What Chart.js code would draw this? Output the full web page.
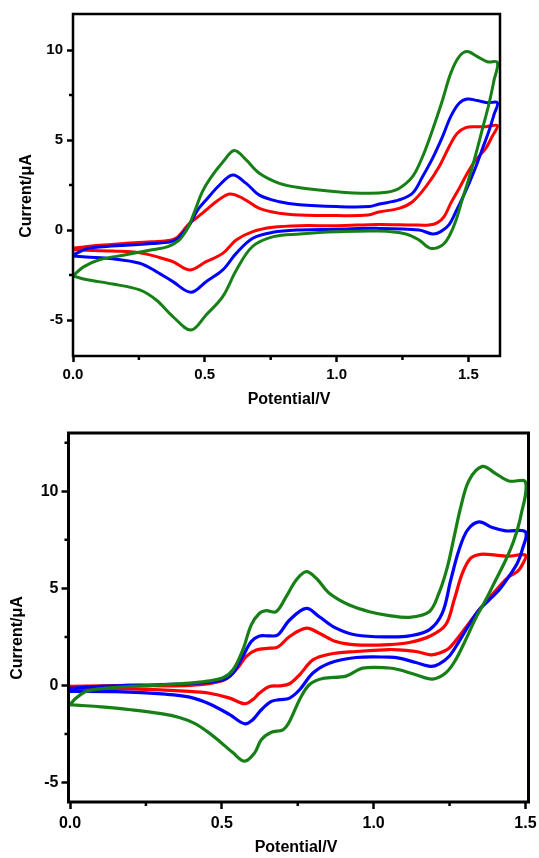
<!DOCTYPE html>
<html>
<head>
<meta charset="utf-8">
<script src="https://cdn.jsdelivr.net/npm/chart.js@4.4.1/dist/chart.umd.min.js"></script>
<style>
  html, body { margin: 0; padding: 0; background: #fff; }
  .panel { position: absolute; left: 0; width: 539px; }
  #panelTop { top: 0; height: 420px; }
  #panelBottom { top: 420px; height: 438px; }
</style>
</head>
<body>
<div class="panel" id="panelTop"><canvas id="cvTop"></canvas></div>
<div class="panel" id="panelBottom"><canvas id="cvBottom"></canvas></div>
<script>
// Axis labels and ticks
const xTitle = 'Potential/V';
const yTitle = 'Current/μA';
const xTicks = [0, 0.5, 1.0, 1.5];
const yTicks = [-5, 0, 5, 10];
const xMinor = [0.25, 0.75, 1.25];
const yMinorTop = [-2.5, 2.5, 7.5];
const yMinorBottom = [-2.5, 2.5, 7.5, 12.5];

// Upper voltammograms: forward sweep 0 -> 1.61 V, then back to 0 V
const topGreenV = [0, 0.04, 0.1, 0.2, 0.3, 0.36, 0.4, 0.42, 0.44, 0.467, 0.49, 0.52, 0.57, 0.612, 0.657, 0.707, 0.783, 0.86, 1.0, 1.12, 1.19, 1.237, 1.288, 1.326, 1.364, 1.402, 1.433, 1.465, 1.496, 1.534, 1.572, 1.61,
  1.597, 1.578, 1.553, 1.528, 1.503, 1.477, 1.452, 1.427, 1.402, 1.357, 1.313, 1.263, 1.16, 1.0, 0.86, 0.76, 0.68, 0.62, 0.568, 0.505, 0.448, 0.379, 0.316, 0.253, 0.15, 0.05, 0];
const topGreenI = [-2.55, -2.05, -1.65, -1.38, -1.1, -0.92, -0.6, -0.25, 0.25, 1.25, 2.1, 2.85, 3.8, 4.41, 3.89, 3.15, 2.59, 2.35, 2.13, 2.04, 2.1, 2.31, 2.96, 4.07, 5.56, 7.22, 8.7, 9.63, 9.91, 9.63, 9.35, 9.31,
  8.3, 7.0, 5.6, 4.2, 2.9, 1.7, 0.5, -0.35, -0.83, -1.02, -0.56, -0.22, -0.06, -0.1, -0.22, -0.37, -0.93, -2.22, -3.7, -4.72, -5.56, -4.81, -3.89, -3.33, -3.0, -2.75, -2.55];

const topBlueV = [0, 0.05, 0.1, 0.2, 0.3, 0.37, 0.395, 0.415, 0.442, 0.473, 0.505, 0.556, 0.606, 0.657, 0.707, 0.783, 0.859, 1.0, 1.124, 1.162, 1.237, 1.288, 1.326, 1.364, 1.402, 1.433, 1.465, 1.496, 1.534, 1.572, 1.61,
  1.597, 1.578, 1.553, 1.528, 1.503, 1.477, 1.452, 1.427, 1.395, 1.364, 1.313, 1.16, 1.0, 0.859, 0.758, 0.682, 0.619, 0.568, 0.505, 0.448, 0.379, 0.316, 0.253, 0.15, 0.05, 0];
const topBlueI = [-1.4, -1.05, -0.95, -0.85, -0.75, -0.66, -0.5, -0.2, 0.28, 1.11, 1.67, 2.5, 3.06, 2.59, 1.94, 1.57, 1.4, 1.3, 1.3, 1.44, 1.67, 2.04, 2.96, 3.98, 5.19, 6.3, 7.04, 7.28, 7.19, 7.07, 7.07,
  6.4, 5.5, 4.5, 3.5, 2.6, 1.75, 1.0, 0.3, -0.09, -0.22, 0.0, 0.09, 0.04, 0.0, -0.13, -0.46, -1.3, -2.22, -2.87, -3.46, -2.87, -2.31, -1.85, -1.6, -1.5, -1.45];

const topRedV = [0, 0.1, 0.2, 0.3, 0.37, 0.395, 0.415, 0.44, 0.467, 0.505, 0.543, 0.594, 0.644, 0.707, 0.783, 0.859, 1.0, 1.12, 1.16, 1.237, 1.288, 1.339, 1.389, 1.427, 1.458, 1.49, 1.528, 1.566, 1.61,
  1.59, 1.566, 1.528, 1.496, 1.465, 1.433, 1.408, 1.383, 1.351, 1.29, 1.16, 1.0, 0.859, 0.758, 0.682, 0.619, 0.568, 0.505, 0.442, 0.379, 0.316, 0.253, 0.15, 0.05, 0];
const topRedI = [-1.02, -0.85, -0.74, -0.65, -0.57, -0.42, -0.1, 0.35, 0.65, 1.11, 1.57, 2.0, 1.76, 1.2, 0.93, 0.83, 0.8, 0.83, 1.0, 1.2, 1.57, 2.41, 3.52, 4.63, 5.37, 5.69, 5.74, 5.74, 5.8,
  5.19, 4.54, 3.89, 3.15, 2.31, 1.48, 0.74, 0.41, 0.28, 0.28, 0.31, 0.24, 0.24, 0.15, -0.09, -0.56, -1.3, -1.76, -2.22, -1.76, -1.48, -1.26, -1.17, -1.12, -1.1];

// Lower voltammograms: forward sweep 0 -> 1.5 V, then back to 0 V
const botGreenV = [0, 0.02, 0.053, 0.118, 0.2, 0.315, 0.394, 0.447, 0.504, 0.537, 0.569, 0.597, 0.624, 0.646, 0.679, 0.712, 0.745, 0.778, 0.811, 0.854, 0.92, 0.986, 1.051, 1.117, 1.183, 1.215, 1.243, 1.265, 1.287, 1.314, 1.358, 1.402, 1.445, 1.5,
  1.484, 1.462, 1.435, 1.402, 1.369, 1.336, 1.303, 1.27, 1.237, 1.194, 1.139, 1.084, 1.051, 0.964, 0.909, 0.832, 0.788, 0.756, 0.723, 0.701, 0.663, 0.63, 0.608, 0.575, 0.537, 0.493, 0.45, 0.41, 0.36, 0.3, 0.2, 0.1, 0.04, 0];
const botGreenI = [-0.99, -0.65, -0.31, -0.14, -0.05, 0.04, 0.12, 0.21, 0.4, 0.81, 1.83, 3.12, 3.72, 3.85, 3.8, 4.57, 5.43, 5.86, 5.52, 4.75, 4.14, 3.8, 3.6, 3.51, 3.8, 4.75, 6.11, 7.65, 9.19, 10.56, 11.28, 10.91, 10.53, 10.48,
  8.68, 7.48, 6.46, 5.43, 4.4, 3.46, 2.35, 1.32, 0.64, 0.33, 0.55, 0.81, 0.9, 0.89, 0.48, 0.36, 0.04, -0.73, -1.85, -2.28, -2.41, -2.79, -3.47, -3.9, -3.47, -2.88, -2.35, -1.95, -1.65, -1.45, -1.25, -1.1, -1.03, -0.99];

const botBlueV = [0, 0.1, 0.3, 0.394, 0.504, 0.537, 0.569, 0.597, 0.624, 0.657, 0.684, 0.723, 0.778, 0.821, 0.876, 0.942, 1.051, 1.117, 1.183, 1.226, 1.254, 1.281, 1.309, 1.347, 1.391, 1.435, 1.5,
  1.489, 1.473, 1.445, 1.413, 1.38, 1.347, 1.314, 1.281, 1.248, 1.215, 1.188, 1.139, 1.084, 1.051, 0.942, 0.854, 0.8, 0.756, 0.723, 0.69, 0.663, 0.63, 0.602, 0.575, 0.526, 0.46, 0.394, 0.315, 0.15, 0];
const botBlueI = [-0.15, -0.05, 0.05, 0.1, 0.29, 0.64, 1.49, 2.26, 2.55, 2.55, 2.6, 3.37, 3.97, 3.54, 2.95, 2.6, 2.5, 2.55, 2.86, 3.72, 5.43, 6.97, 8.0, 8.42, 8.13, 7.96, 7.91,
  6.97, 6.29, 5.6, 4.92, 4.4, 3.89, 3.12, 2.26, 1.49, 1.1, 0.98, 1.18, 1.41, 1.46, 1.44, 1.15, 0.64, -0.22, -0.65, -0.73, -0.82, -1.25, -1.76, -1.97, -1.5, -0.95, -0.6, -0.45, -0.32, -0.3];

const botRedV = [0, 0.2, 0.394, 0.504, 0.547, 0.58, 0.613, 0.657, 0.684, 0.723, 0.778, 0.821, 0.876, 0.942, 1.051, 1.117, 1.183, 1.237, 1.265, 1.292, 1.319, 1.352, 1.402, 1.445, 1.5,
  1.489, 1.473, 1.445, 1.413, 1.38, 1.347, 1.314, 1.281, 1.248, 1.215, 1.188, 1.139, 1.084, 1.051, 0.942, 0.854, 0.8, 0.756, 0.723, 0.69, 0.657, 0.624, 0.602, 0.575, 0.526, 0.46, 0.394, 0.2, 0];
const botRedI = [-0.05, 0.0, 0.0, 0.26, 0.81, 1.49, 1.83, 1.92, 1.97, 2.52, 2.95, 2.69, 2.26, 2.09, 2.1, 2.21, 2.52, 3.12, 4.4, 5.77, 6.54, 6.75, 6.71, 6.66, 6.71,
  6.2, 5.86, 5.6, 5.08, 4.49, 3.89, 3.2, 2.52, 1.92, 1.66, 1.58, 1.75, 1.83, 1.85, 1.75, 1.61, 1.32, 0.55, 0.09, -0.02, -0.05, -0.39, -0.73, -0.94, -0.65, -0.4, -0.3, -0.18, -0.14];

const GREEN = '#168016';
const BLUE = '#0000ff';
const RED = '#ff0000';
const FONT = "'Liberation Sans', Arial, sans-serif";

const toPoints = (v, i) => v.map((x, k) => ({ x, y: i[k] }));

// frame, short minor ticks and the two axis titles
const panelDecor = {
  id: 'panelDecor',
  afterDatasetsDraw(chart, args, o) {
    const { ctx, chartArea: a, scales: { x, y } } = chart;
    ctx.save();
    ctx.strokeStyle = '#000';
    ctx.lineWidth = o.frameWidth;
    ctx.strokeRect(a.left, a.top, a.right - a.left, a.bottom - a.top);

    ctx.lineWidth = o.tickWidth;
    ctx.beginPath();
    o.minorX.forEach(v => {
      const px = x.getPixelForValue(v);
      ctx.moveTo(px, a.bottom);
      ctx.lineTo(px, a.bottom + o.minorLen);
    });
    o.minorY.forEach(v => {
      const py = y.getPixelForValue(v);
      ctx.moveTo(a.left, py);
      ctx.lineTo(a.left - o.minorLen, py);
    });
    ctx.stroke();

    ctx.fillStyle = '#000';
    ctx.font = 'bold ' + o.titleSize + 'px ' + FONT;
    ctx.textAlign = 'center';
    ctx.textBaseline = 'middle';
    ctx.fillText(xTitle, o.xTitleAt[0], o.xTitleAt[1]);
    ctx.translate(o.yTitleAt[0], o.yTitleAt[1]);
    ctx.rotate(-Math.PI / 2);
    ctx.fillText(yTitle, 0, 0);
    ctx.restore();
  }
};

function buildPanel(id, series, s) {
  const datasets = series.map(([v, i, color]) => ({
    data: toPoints(v, i),
    borderColor: color,
    borderWidth: s.lineWidth,
    showLine: true,
    pointRadius: 0,
    tension: 0.35,
    borderJoinStyle: 'round',
    borderCapStyle: 'round',
    fill: false
  }));
  const tickFont = { family: FONT, size: s.tickSize, weight: 'bold' };
  const grid = { drawOnChartArea: false, tickLength: s.tickLen, tickWidth: s.tickWidth, tickColor: '#000' };
  return new Chart(document.getElementById(id), {
    type: 'scatter',
    data: { datasets },
    options: {
      responsive: true,
      maintainAspectRatio: false,
      animation: false,
      devicePixelRatio: 1,
      layout: { padding: s.padding },
      plugins: {
        legend: { display: false },
        tooltip: { enabled: false },
        panelDecor: {
          frameWidth: s.frameWidth, tickWidth: s.tickWidth, minorLen: s.minorLen,
          minorX: xMinor, minorY: s.minorY,
          titleSize: s.titleSize, xTitleAt: s.xTitleAt, yTitleAt: s.yTitleAt
        }
      },
      scales: {
        x: {
          type: 'linear',
          min: s.xMin, max: s.xMax,
          afterBuildTicks: ax => { ax.ticks = xTicks.map(value => ({ value })); },
          afterFit: ax => { ax.height = s.xAxisHeight; ax.paddingLeft = 0; ax.paddingRight = 0; },
          ticks: { callback: v => v.toFixed(1), font: tickFont, color: '#000', padding: s.xPad, maxRotation: 0, autoSkip: false },
          grid, border: { display: false }
        },
        y: {
          type: 'linear',
          min: s.yMin, max: s.yMax,
          afterBuildTicks: ax => { ax.ticks = yTicks.map(value => ({ value })); },
          afterFit: ax => { ax.width = s.yAxisWidth; ax.paddingTop = 0; ax.paddingBottom = 0; },
          ticks: { callback: v => String(v), font: tickFont, color: '#000', padding: s.yPad, autoSkip: false },
          grid, border: { display: false }
        }
      }
    },
    plugins: [panelDecor]
  });
}

buildPanel('cvTop', [
  [topGreenV, topGreenI, GREEN],
  [topBlueV, topBlueI, BLUE],
  [topRedV, topRedI, RED]
], {
  xMin: 0, xMax: 1.62, yMin: -7, yMax: 12,
  padding: { top: 14, right: 39, bottom: 0, left: 0 },
  yAxisWidth: 73, xAxisHeight: 64,
  lineWidth: 3, frameWidth: 2.5, tickWidth: 2.5, tickLen: 6, minorLen: 4,
  tickSize: 15, xPad: 4, yPad: 4, minorY: yMinorTop,
  titleSize: 16, xTitleAt: [289, 400], yTitleAt: [27, 196]
});

buildPanel('cvBottom', [
  [botGreenV, botGreenI, GREEN],
  [botBlueV, botBlueI, BLUE],
  [botRedV, botRedI, RED]
], {
  xMin: -0.005, xMax: 1.51, yMin: -6, yMax: 13,
  padding: { top: 13, right: 10.5, bottom: 0, left: 0 },
  yAxisWidth: 68.5, xAxisHeight: 56,
  lineWidth: 3.2, frameWidth: 3, tickWidth: 2.5, tickLen: 7, minorLen: 4,
  tickSize: 16, xPad: 5, yPad: 3, minorY: yMinorBottom,
  titleSize: 16, xTitleAt: [296, 428], yTitleAt: [18, 218]
});
</script>
</body>
</html>
